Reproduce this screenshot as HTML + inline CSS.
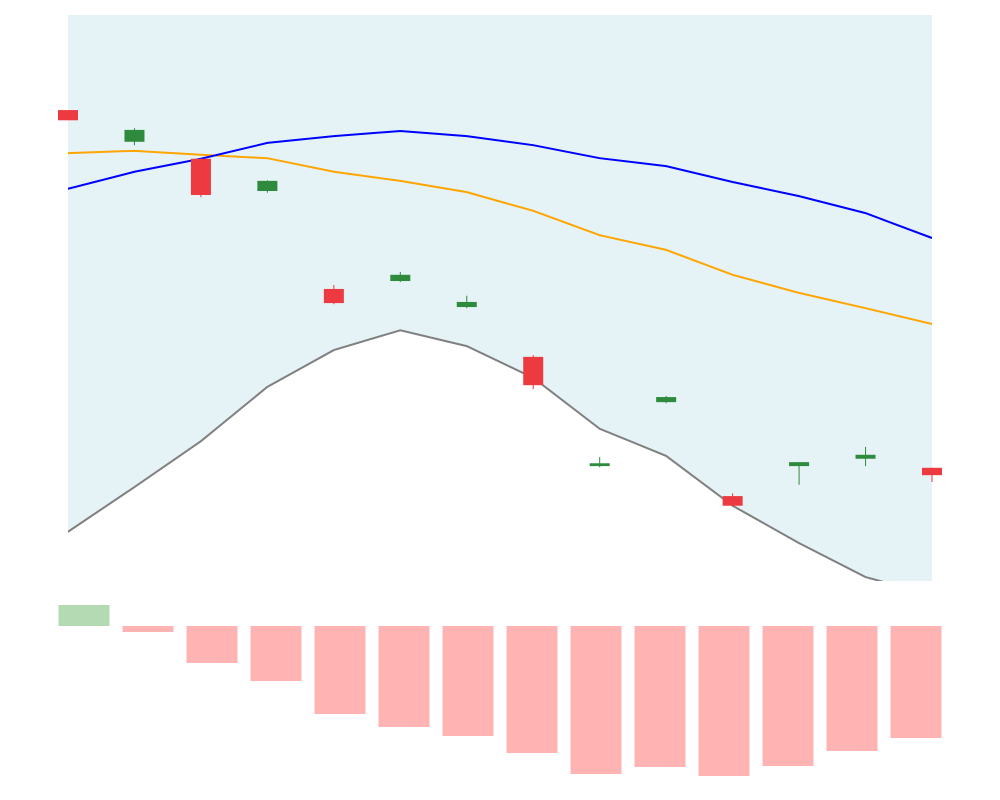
<!DOCTYPE html>
<html><head><meta charset="utf-8"><style>
html,body{margin:0;padding:0;background:#fff;width:1000px;height:800px;overflow:hidden;font-family:"Liberation Sans",sans-serif}
</style></head><body>
<svg id="chart" width="1000" height="800"></svg>
<script>
const blueLine=[69.3,72.3,74.6,77.4,78.6,79.5,78.6,77.0,74.7,73.3,70.5,68.0,65.0,60.6];
const orangeLine=[75.6,76.0,75.3,74.7,72.3,70.7,68.7,65.4,61.1,58.5,54.1,50.9,48.2,45.4];
const grayLine=[8.7,16.6,24.7,34.3,40.8,44.3,41.5,35.9,26.9,22.1,13.3,6.7,0.7,-2.5];
const opens=[83.2,77.6,74.6,68.9,51.6,53.0,48.4,39.6,20.3,31.6,15.0,20.3,21.6,20.0];
const closes=[81.4,79.7,68.2,70.7,49.1,54.1,49.3,34.6,20.8,32.5,13.3,21.0,22.3,18.7];
const highs=[83.2,80.0,74.6,70.8,52.3,54.6,50.4,39.9,21.9,32.7,15.5,21.0,23.7,20.0];
const lows=[81.4,77.0,67.8,68.6,48.9,52.8,48.2,33.9,20.1,31.4,13.1,17.0,20.3,17.5];
const histValues=[21,-6,-37,-55,-88,-101,-110,-127,-148,-141,-150,-140,-125,-112];

const NS="http://www.w3.org/2000/svg";
const svg=document.getElementById('chart');
const X0=68,X1=932,Y0=15,Y1=581;
const n=opens.length;
const xs=i=>X0+(X1-X0)*i/(n-1);
const ys=v=>Y1-(v-0)*(Y1-Y0)/100;
const hZero=626;
const hx=i=>84+64*i;
const hy=v=>hZero-v;
function mk(tag,attrs){const e=document.createElementNS(NS,tag);for(const k in attrs)e.setAttribute(k,attrs[k]);svg.appendChild(e);return e;}

const defs=mk('defs',{});
const cp=document.createElementNS(NS,'clipPath');cp.setAttribute('id','clip');
const cr=document.createElementNS(NS,'rect');cr.setAttribute('x',X0);cr.setAttribute('y',Y0);cr.setAttribute('width',X1-X0);cr.setAttribute('height',Y1-Y0);
cp.appendChild(cr);defs.appendChild(cp);

// band fill: top to gray line
let d=`M${X0},${Y0} L${X1},${Y0}`;
for(let i=n-1;i>=0;i--)d+=` L${xs(i)},${ys(grayLine[i])}`;
d+='Z';
const band=mk('path',{d:d,fill:'#e5f3f7','clip-path':'url(#clip)'});



function line(arr,color,name){
  const p=arr.map((v,i)=>`${i?'L':'M'}${xs(i)},${ys(v)}`).join(' ');
  const e=mk('path',{d:p,fill:'none',stroke:color,'stroke-width':2,'clip-path':'url(#clip)'});
  
  
}
line(grayLine,'#808080','lower-band-line');
line(orangeLine,'orange','orange-ma-line');
line(blueLine,'blue','blue-ma-line');

for(let i=0;i<n;i++){
  const up=closes[i]>=opens[i];
  const col=up?'#2e8b3e':'#ec3a40';
  const w=mk('line',{x1:xs(i),x2:xs(i),y1:ys(highs[i]),y2:ys(lows[i]),stroke:col,'stroke-width':1});
  
  
  const top=ys(Math.max(opens[i],closes[i])),bot=ys(Math.min(opens[i],closes[i]));
  const r=mk('rect',{x:xs(i)-10,y:top,width:20,height:Math.max(bot-top,2),fill:col});
  
  
}

for(let i=0;i<n;i++){
  const v=histValues[i];
  const r=mk('rect',{x:hx(i)-25.5,y:Math.min(hy(v),hZero),width:51,height:Math.abs(v),fill:v>=0?'#b3dab3':'#ffb3b3'});
  
  
}
</script>
</body></html>
